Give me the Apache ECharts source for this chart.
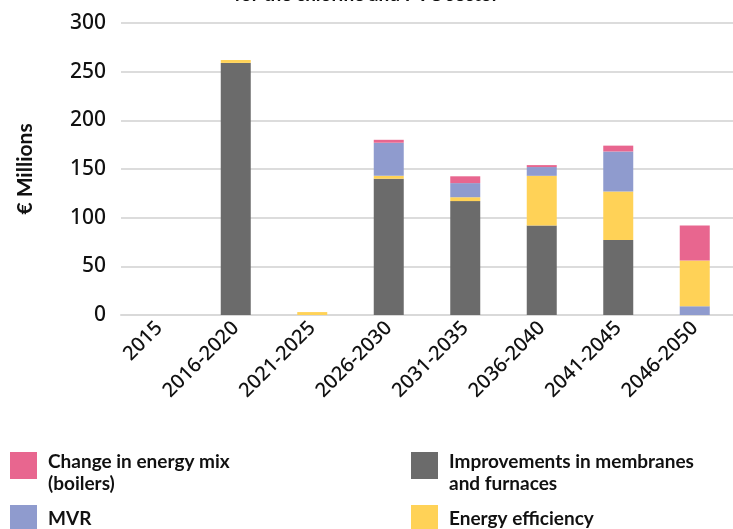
<!DOCTYPE html>
<html>
<head>
<meta charset="utf-8">
<script src="https://cdn.jsdelivr.net/npm/echarts@6/dist/echarts.min.js"></script>
<style>
  html, body { margin: 0; padding: 0; background: #ffffff; }
  #chart { width: 733px; height: 529px; }
</style>
</head>
<body>
<div id="chart"></div>
<script>
// Investment by period, € millions
const categories = ['2015', '2016-2020', '2021-2025', '2026-2030', '2031-2035', '2036-2040', '2041-2045', '2046-2050'];
const improvements = [0, 259, 0, 140, 117, 92, 77, 0];
const efficiency = [0, 3, 3, 3, 4, 51, 50, 47];
const mvr = [0, 0, 0, 34, 14.5, 9, 41, 9];
const energyMix = [0, 0, 0, 3, 7, 2, 6, 36];
const yTicks = { min: 0, max: 300, interval: 50 };

// Periods where the MVR block sits underneath the energy-efficiency block
const mvrUnderEfficiency = ['2046-2050'];

const NAME_MIX = 'Change in energy mix (boilers)';
const NAME_IMPR = 'Improvements in membranes and furnaces';
const NAME_MVR = 'MVR';
const NAME_EFF = 'Energy efficiency';

const COLORS = {
  mix: '#E8668F',
  impr: '#6B6B6B',
  mvr: '#8F9BCE',
  eff: '#FFD257'
};

const mvrLow = categories.map((c, i) => mvrUnderEfficiency.includes(c) ? mvr[i] : 0);
const mvrHigh = categories.map((c, i) => mvrUnderEfficiency.includes(c) ? 0 : mvr[i]);

const FONT = '"Noto Sans", sans-serif';
const LEGEND_FONT = 'Lato, "Noto Sans", sans-serif';
const TEXT = '#111111';

function barSeries(name, data, color) {
  return {
    name: name,
    type: 'bar',
    stack: 'total',
    barWidth: 30,
    data: data,
    itemStyle: { color: color },
    emphasis: { disabled: true }
  };
}

const legendFont = {
  fontFamily: LEGEND_FONT,
  fontWeight: 'bold',
  fontSize: 19,
  lineHeight: 22,
  color: TEXT
};

// Two-line labels sit a little below the swatch centre: a spacer line on top pushes them down
function legendAt(name, left, top, lines) {
  const label = lines.length > 1
    ? ['{g| }'].concat(lines.map(l => '{t|' + l + '}')).join('\n')
    : lines[0];
  return {
    data: [name],
    left: left,
    top: top,
    padding: 0,
    icon: 'rect',
    itemWidth: 27,
    itemHeight: 27,
    formatter: () => label,
    textStyle: Object.assign({}, legendFont, {
      padding: [0, 0, 0, 6],
      rich: {
        g: { fontSize: 6, lineHeight: 15 },
        t: Object.assign({}, legendFont)
      }
    })
  };
}

const chart = echarts.init(document.getElementById('chart'), null, { renderer: 'canvas' });

chart.setOption({
  animation: false,
  backgroundColor: '#ffffff',
  title: {
    text: 'for the chlorine and PVC sector',
    left: 'center',
    top: -15,
    padding: 0,
    textStyle: { fontFamily: LEGEND_FONT, fontWeight: 'bold', fontSize: 19, color: TEXT }
  },
  grid: { left: 121, top: 23, width: 616, height: 292, containLabel: false },
  legend: [
    legendAt(NAME_MIX, 10, 436, ['Change in energy mix', '(boilers)']),
    legendAt(NAME_IMPR, 411, 436, ['Improvements in membranes', 'and furnaces']),
    legendAt(NAME_MVR, 10, 505, ['MVR']),
    legendAt(NAME_EFF, 411, 505, ['Energy efficiency'])
  ],
  xAxis: {
    type: 'category',
    data: categories,
    axisLine: { show: true, lineStyle: { color: '#d9d9d9', width: 2 } },
    axisTick: { show: false },
    axisLabel: {
      interval: 0,
      rotate: 45,
      margin: 10,
      fontFamily: FONT,
      fontWeight: 500,
      fontSize: 20,
      color: TEXT
    }
  },
  yAxis: {
    type: 'value',
    min: yTicks.min,
    max: yTicks.max,
    interval: yTicks.interval,
    name: '€ Millions',
    nameLocation: 'middle',
    nameGap: 85,
    nameRotate: 90,
    nameTextStyle: { fontFamily: LEGEND_FONT, fontWeight: 'bold', fontSize: 21, color: TEXT },
    axisLine: { show: false },
    axisTick: { show: false },
    axisLabel: { margin: 15, fontFamily: FONT, fontWeight: 500, fontSize: 21, color: TEXT },
    splitLine: { lineStyle: { color: '#dcdcdc', width: 2 } }
  },
  series: [
    barSeries(NAME_IMPR, improvements, COLORS.impr),
    barSeries(NAME_MVR, mvrLow, COLORS.mvr),
    barSeries(NAME_EFF, efficiency, COLORS.eff),
    barSeries(NAME_MVR, mvrHigh, COLORS.mvr),
    barSeries(NAME_MIX, energyMix, COLORS.mix)
  ]
});
</script>
</body>
</html>
